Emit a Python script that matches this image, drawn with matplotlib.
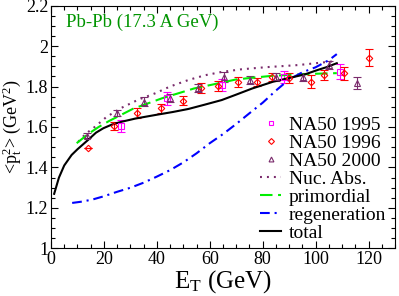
import numpy as np
import matplotlib
matplotlib.use("Agg")
import matplotlib.pyplot as plt
from matplotlib.lines import Line2D

plt.rcParams['font.family'] = ['Liberation Serif', 'DejaVu Serif']
plt.rcParams['mathtext.fontset'] = 'custom'
plt.rcParams['mathtext.rm'] = 'Liberation Serif'
plt.rcParams['mathtext.it'] = 'Liberation Serif:italic'
plt.rcParams['lines.scale_dashes'] = False

# DATA
# NA50 1995
et95 = [26.5, 43.7, 64.5, 88.2, 109.2]
pt95 = [1.606, 1.741, 1.807, 1.848, 1.873]
err95 = [0.03, 0.03, 0.03, 0.03, 0.037]

# NA50 1996
et96 = [14.1, 23.9, 32.4, 41.5, 49.8, 56.6, 63.2, 70.8, 77.7, 83.6, 89.9, 98.1, 103.3, 110.8, 120.0]
pt96 = [1.498, 1.605, 1.668, 1.692, 1.730, 1.794, 1.802, 1.824, 1.824, 1.848, 1.840, 1.824, 1.857, 1.865, 1.942]
err96 = [0.0, 0.02, 0.025, 0.022, 0.023, 0.025, 0.025, 0.025, 0.02, 0.02, 0.025, 0.033, 0.025, 0.031, 0.041]

# NA50 2000
et00 = [13.5, 25.1, 35.3, 45.0, 55.4, 65.2, 75.2, 85.0, 95.4, 105.1, 115.8]
pt00 = [1.556, 1.668, 1.725, 1.745, 1.791, 1.848, 1.832, 1.848, 1.848, 1.906, 1.816]
err00 = [0.012, 0.015, 0.022, 0.02, 0.02, 0.025, 0.02, 0.02, 0.02, 0.02, 0.03]

# model curves
et_nuc = [10.3, 13, 16.6, 21, 26.7, 33, 39.3, 45, 51.9, 58, 64.5, 72, 80.9, 93.5, 100, 108]
pt_nuc = [1.527, 1.565, 1.601, 1.65, 1.695, 1.735, 1.766, 1.80, 1.832, 1.855, 1.872, 1.885, 1.895, 1.906, 1.915, 1.926]

et_prim = [9.7, 14, 18, 22, 25, 31, 42, 54, 63, 70, 76, 83, 88, 95, 100, 108]
pt_prim = [1.52, 1.565, 1.60, 1.63, 1.65, 1.69, 1.742, 1.79, 1.815, 1.835, 1.843, 1.852, 1.856, 1.86, 1.863, 1.866]

et_reg = [8, 12, 16, 20, 25, 30, 35, 40, 45, 50, 55, 60, 65, 70, 75, 80, 85, 90, 95, 100, 105, 108]
pt_reg = [1.225, 1.232, 1.243, 1.258, 1.28, 1.30, 1.325, 1.355, 1.387, 1.425, 1.47, 1.52, 1.565,
          1.615, 1.668, 1.72, 1.78, 1.835, 1.87, 1.895, 1.93, 1.96]

et_tot = [1.2, 3, 5, 7.8, 10, 14, 17, 19.8, 23, 26.7, 32, 39.3, 46, 51.9, 58, 64.5, 70, 76, 84, 90,
          96, 100.4, 104, 108]
pt_tot = [1.27, 1.35, 1.41, 1.462, 1.49, 1.536, 1.572, 1.594, 1.612, 1.626, 1.642, 1.659, 1.674,
          1.689, 1.71, 1.733, 1.76, 1.79, 1.824, 1.842, 1.86, 1.88, 1.895, 1.915]

maroon = '#7a2b6c'

fig = plt.figure(figsize=(3.99, 2.96), dpi=100)
ax = fig.add_axes([0.1278, 0.1605, 0.8622, 0.8209])

ax.errorbar(et95, pt95, yerr=err95, fmt='s', ms=4.5, mfc='none', mec='magenta', mew=0.8,
            ecolor='magenta', elinewidth=0.8, capsize=3, capthick=0.8)
ax.errorbar(et96, pt96, yerr=err96, fmt='D', ms=3.3, mfc='none', mec='red', mew=0.8,
            ecolor='red', elinewidth=0.8, capsize=3, capthick=0.8)
ax.errorbar(et00, pt00, yerr=err00, fmt='^', ms=4, mfc='none', mec=maroon, mew=0.8,
            ecolor=maroon, elinewidth=0.8, capsize=3, capthick=0.8)

l_nuc, = ax.plot(et_nuc, pt_nuc, color=maroon, lw=1.5, dashes=(1.4, 3.6), label='Nuc. Abs.')
l_prim, = ax.plot(et_prim, pt_prim, color='#00ee00', lw=1.5, dashes=(9, 4), label='primordial')
l_reg, = ax.plot(et_reg, pt_reg, color='blue', lw=1.5, dashes=(7, 3.5, 1.5, 3.5), label='regeneration')
l_tot, = ax.plot(et_tot, pt_tot, color='black', lw=1.5, label='total')

h95 = Line2D([], [], ls='none', marker='s', ms=3.5, mfc='none', mec='magenta', mew=0.8, label='NA50 1995')
h96 = Line2D([], [], ls='none', marker='D', ms=3, mfc='none', mec='red', mew=0.8, label='NA50 1996')
h00 = Line2D([], [], ls='none', marker='^', ms=3.5, mfc='none', mec=maroon, mew=0.8, label='NA50 2000')

ax.set_xlim(0, 130)
ax.set_ylim(1, 2.2)
ax.set_xticks(np.arange(0, 121, 20))
ax.set_xticks(np.arange(0, 131, 5), minor=True)
ax.set_yticks(np.arange(1, 2.21, 0.2))
ax.set_yticks(np.arange(1, 2.21, 0.05), minor=True)
ax.set_yticklabels(['1', '1.2', '1.4', '1.6', '1.8', '2', '2.2'])
ax.tick_params(which='both', direction='in', top=True, right=True, labelsize=13, pad=2)
ax.tick_params(which='major', length=5, width=0.8)
ax.tick_params(which='minor', length=3, width=0.8)
for s in ax.spines.values():
    s.set_linewidth(0.8)

ax.set_xlabel(r'E$_\mathrm{T}$ (GeV)', fontsize=18, labelpad=0)
ax.set_ylabel(r'<p$_\mathrm{t}^\mathrm{2}$> (GeV$^\mathrm{2}$)', fontsize=13, labelpad=1)

ax.text(0.045, 0.93, 'Pb-Pb (17.3 A GeV)', transform=ax.transAxes, fontsize=13.5,
        color='#009400', va='center')

ax.legend(handles=[h95, h96, h00, l_nuc, l_prim, l_reg, l_tot],
          loc='lower right', bbox_to_anchor=(0.995, 0.0), frameon=False, fontsize=14,
          handlelength=1.1, handletextpad=0.4, labelspacing=0.02, borderpad=0.2,
          borderaxespad=0.15)

fig.savefig('out.png', dpi=100)
